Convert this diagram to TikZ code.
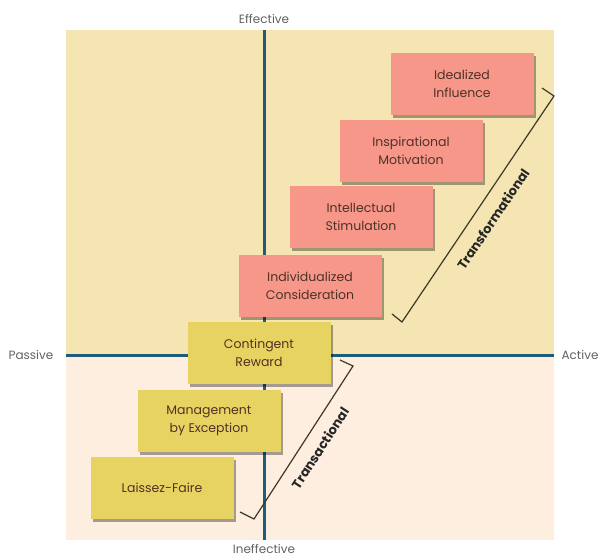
\documentclass[tikz,border=0pt]{standalone}
\usepackage{fontspec}
\setmainfont{Poppins}
\usetikzlibrary{shadows}

\definecolor{upperbg}{HTML}{F4E5B2}
\definecolor{lowerbg}{HTML}{FDEEDF}
\definecolor{axisblue}{HTML}{1E5C7C}
\definecolor{salmon}{HTML}{F6978A}
\definecolor{mustard}{HTML}{E7D362}
\definecolor{boxtext}{HTML}{4E3226}
\definecolor{bracketcol}{HTML}{3B3A22}

\begin{document}
\begin{tikzpicture}[x=1pt, y=-1pt,
    tbox/.style={rectangle, fill=#1, inner sep=0pt,
                 minimum width=143pt, minimum height=62pt,
                 align=center, text=boxtext,
                 font=\fontsize{12.5}{18.5}\selectfont,
                 drop shadow={shadow xshift=2pt, shadow yshift=-3pt,
                              opacity=0.35, fill=black}},
    tbox/.default=salmon,
    axis/.style={line width=3pt, draw=axisblue},
    axlabel/.style={font=\fontsize{12}{14}\selectfont, text=black!62},
    brak/.style={line width=1.2pt, draw=bracketcol, line join=miter},
    braklabel/.style={font=\fontsize{13}{15}\selectfont\bfseries, text=black!85},
]

\useasboundingbox (0,0) rectangle (602,558);

% --- quadrant background ---
\fill [upperbg] (66,30) rectangle (554,355);
\fill [lowerbg] (66,355) rectangle (554,540);

% --- axes ---
\coordinate (top)    at (264,30);
\coordinate (bottom) at (264,540);
\coordinate (left)   at (66,355);
\coordinate (right)  at (554,355);
\draw [axis] (top) -- (bottom);
\draw [axis] (left) -- (right);

\node (effective)   [axlabel] at (264,19)  {Effective};
\node (ineffective) [axlabel] at (264,549) {Ineffective};
\node (passive)     [axlabel] at (31,355)  {Passive};
\node (active)      [axlabel] at (580,355) {Active};

% ============================================================
%  brackets
% ============================================================
\coordinate (tf1) at (542,88);
\coordinate (tf2) at (554,96);
\coordinate (tf3) at (402,322);
\coordinate (tf4) at (392,314);
\draw [brak] (tf1) -- (tf2) -- (tf3) -- (tf4);
\node (transform) [braklabel, rotate=56] at (493,219) {Transformational};

\coordinate (ta1) at (340,360);
\coordinate (ta2) at (353,366);
\coordinate (ta3) at (254,519);
\coordinate (ta4) at (240,512);
\draw [brak] (ta1) -- (ta2) -- (ta3) -- (ta4);
\node (transact) [braklabel, rotate=57] at (320,448) {Transactional};

% ============================================================
%  leadership styles
% ============================================================
\node (idealized) [tbox] at (462,84)  {Idealized\\Influence};
\node (inspire)   [tbox] at (411,151) {Inspirational\\Motivation};
\node (intellect) [tbox] at (361,217) {Intellectual\\Stimulation};
\node (individ)   [tbox] at (310,286) {Individualized\\Consideration};

\node (contingent) [tbox=mustard] at (259,353) {Contingent\\Reward};
\node (mbe)        [tbox=mustard] at (209,421) {Management\\by Exception};
\node (laissez)    [tbox=mustard] at (162,488) {Laissez-Faire};

\end{tikzpicture}
\end{document}
